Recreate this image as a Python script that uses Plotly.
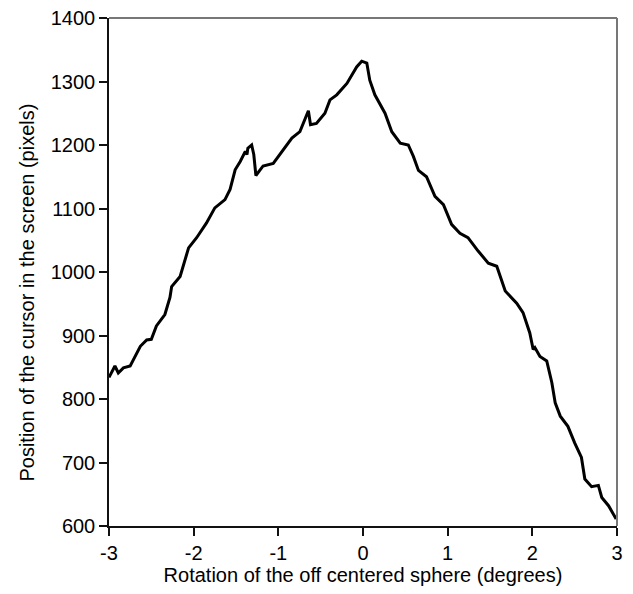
import plotly.graph_objects as go

# rotation (degrees) and cursor position (pixels)
rotation = [-3.0, -2.93, -2.89, -2.83, -2.75, -2.69, -2.63, -2.555, -2.50, -2.44,
            -2.34, -2.28, -2.26, -2.16, -2.06, -1.965, -1.85, -1.75, -1.63, -1.57,
            -1.51, -1.45, -1.39, -1.37, -1.36, -1.315, -1.29, -1.265, -1.18, -1.06,
            -0.94, -0.84, -0.745, -0.685, -0.645, -0.62, -0.55, -0.45, -0.39, -0.31,
            -0.19, -0.075, -0.015, 0.045, 0.08, 0.14, 0.26, 0.34, 0.44, 0.535,
            0.595, 0.655, 0.75, 0.85, 0.95, 1.046, 1.145, 1.24, 1.36, 1.48,
            1.58, 1.68, 1.815, 1.89, 1.97, 2.01, 2.03, 2.09, 2.17, 2.23,
            2.27, 2.33, 2.42, 2.50, 2.58, 2.62, 2.70, 2.78, 2.82, 2.90, 2.99]
position = [834, 852, 841, 849, 852, 867, 883, 893, 894, 915,
            933, 960, 977, 993, 1038, 1054, 1077, 1101, 1114, 1130,
            1161, 1174, 1190, 1185, 1195, 1200, 1185, 1152, 1167, 1171,
            1192, 1211, 1221, 1240, 1254, 1232, 1234, 1250, 1271, 1279,
            1297, 1323, 1332, 1329, 1302, 1279, 1250, 1221, 1203, 1200,
            1182, 1160, 1150, 1119, 1106, 1075, 1061, 1054, 1033, 1014,
            1009, 970, 951, 936, 904, 878, 881, 867, 860, 826,
            794, 773, 757, 731, 708, 674, 662, 664, 645, 632, 611]

x_ticks = [-3, -2, -1, 0, 1, 2, 3]
x_labels = ["-3", "-2", "-1", "0", "1", "2", "3"]
y_ticks = [600, 700, 800, 900, 1000, 1100, 1200, 1300, 1400]

FONT = "Liberation Sans, Arial, sans-serif"

fig = go.Figure(go.Scatter(
    x=rotation, y=position, mode="lines",
    line=dict(color="black", width=3),
))

axis_common = dict(
    showgrid=False, zeroline=False,
    showline=True, linecolor="#111", linewidth=1.5,
    ticks="outside", ticklen=8, tickcolor="#111", tickwidth=1.5,
    tickfont=dict(size=20, color="black"),
    ticklabeloverflow="allow", automargin=False,
)
fig.update_layout(
    width=633, height=594,
    paper_bgcolor="white", plot_bgcolor="white",
    font=dict(family=FONT, color="black"),
    margin=dict(l=101, r=24, t=10, b=76, autoexpand=False),
    showlegend=False,
    xaxis=dict(range=[-3, 3], tickvals=x_ticks, ticktext=x_labels,
               title=dict(text="Rotation of the off centered sphere (degrees)",
                          font=dict(size=20), standoff=3),
               **axis_common),
    yaxis=dict(range=[600, 1400], tickvals=y_ticks, **axis_common),
    shapes=[
        dict(type="line", xref="paper", yref="paper", x0=0, x1=1, y0=1, y1=1,
             line=dict(color="#777", width=2)),
        dict(type="line", xref="paper", yref="paper", x0=1, x1=1, y0=0, y1=1,
             line=dict(color="#777", width=2)),
    ],
    annotations=[
        dict(text="Position of the cursor in the screen (pixels)",
             xref="paper", yref="paper", x=-0.161, y=0.46, textangle=-90,
             showarrow=False, font=dict(size=20, family=FONT, color="black"),
             xanchor="center", yanchor="middle"),
    ],
)

fig.write_html("out.html")
